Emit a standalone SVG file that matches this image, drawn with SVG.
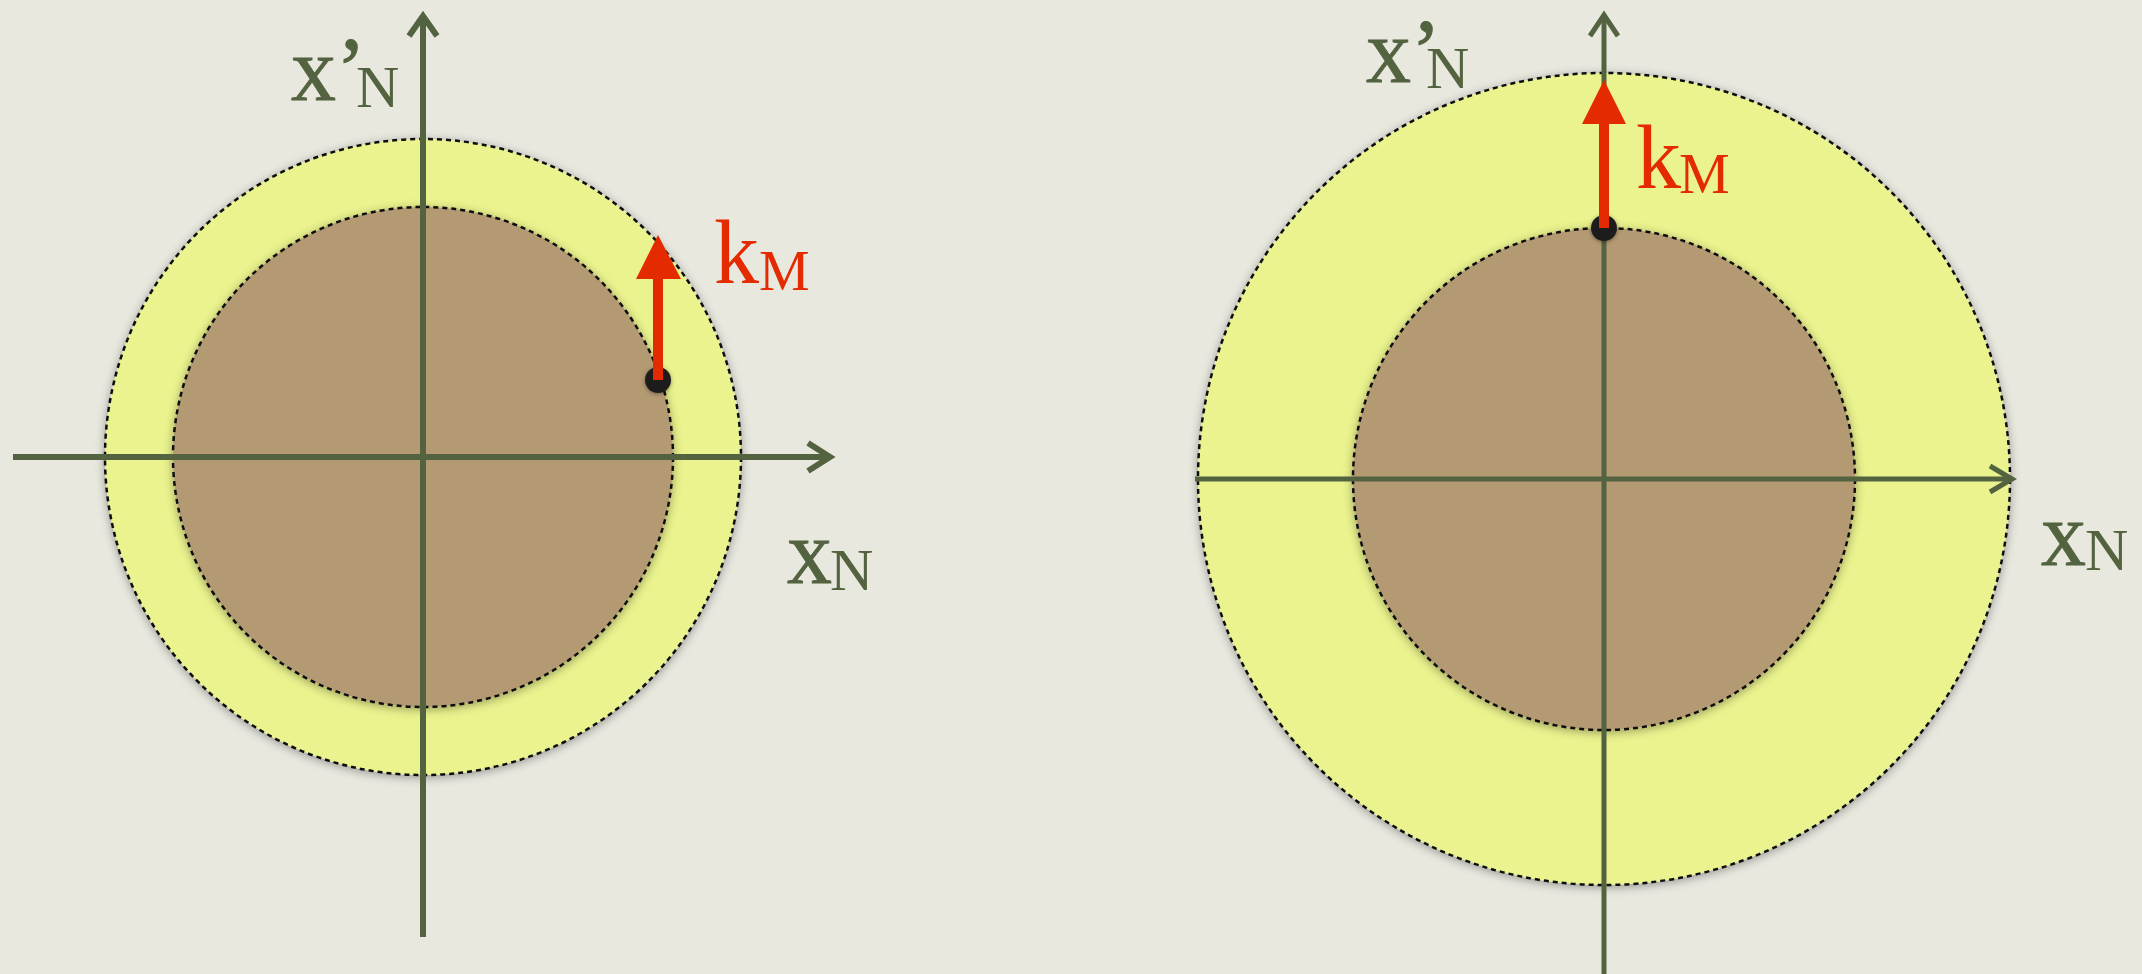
<svg xmlns="http://www.w3.org/2000/svg" width="2142" height="974" viewBox="0 0 2142 974">
<defs>
<filter id="sh" x="-20%" y="-20%" width="140%" height="140%">
<feDropShadow dx="0" dy="2" stdDeviation="5" flood-color="#000" flood-opacity="0.35"/>
</filter>
<filter id="dsh" x="-50%" y="-50%" width="200%" height="200%">
<feDropShadow dx="0" dy="1" stdDeviation="2" flood-color="#000" flood-opacity="0.4"/>
</filter>
<style>
.outer{fill:#ebf38e;stroke:#111;stroke-width:2.5;stroke-dasharray:5 4;filter:url(#sh)}
.inner{fill:#b49a72;stroke:#111;stroke-width:2.5;stroke-dasharray:5 4;filter:url(#sh)}
.ax{stroke:#536340;stroke-width:6;fill:none}
.axr{stroke:#536340;stroke-width:5;fill:none}
.head{stroke:#536340;stroke-width:6;fill:none;stroke-linecap:butt;stroke-linejoin:miter}
.headr{stroke:#536340;stroke-width:5;fill:none;stroke-linejoin:miter}
.lbl{font-family:"Liberation Serif","Times New Roman",serif;fill:#536340}
.red{font-family:"Liberation Serif","Times New Roman",serif;fill:#e42a00}
.big{font-size:90px}
.bx{stroke:#536340;stroke-width:0.8}
.sub{font-size:60px}
.msub{font-size:57px}
.dot{fill:#1e1e1e;filter:url(#dsh)}
.rarrow{fill:#e42a00}
</style>
</defs>
<rect width="2142" height="974" fill="#e8e8df"/>

<g id="left-circles">
<circle class="outer" cx="423" cy="457" r="318"/>
<circle class="inner" cx="423" cy="457" r="250"/>
</g>
<g id="right-circles">
<circle class="outer" cx="1604" cy="479" r="406"/>
<circle class="inner" cx="1604" cy="479" r="251"/>
</g>

<g id="connectors">
<line class="ax" x1="423" y1="16" x2="423" y2="937"/>
<polyline class="head" points="409,36 423,16 437,36"/>
<line class="ax" x1="13" y1="457" x2="829" y2="457"/>
<polyline class="head" points="808,443 830,457 808,471"/>
<line class="axr" x1="1604" y1="15" x2="1604" y2="974"/>
<polyline class="headr" points="1590,36 1604,15 1618,36"/>
<line class="axr" x1="1195" y1="479" x2="2011" y2="479"/>
<polyline class="headr" points="1990,466 2012,479 1990,492"/>
</g>

<g id="left-vector">
<circle class="dot" cx="658" cy="380" r="13"/>
<rect class="rarrow" x="653" y="274" width="10" height="106"/>
<polygon class="rarrow" points="658,235 681,279 636,279"/>
</g>
<g id="right-vector">
<circle class="dot" cx="1604" cy="228" r="13"/>
<rect class="rarrow" x="1599" y="119" width="10" height="109"/>
<polygon class="rarrow" points="1604,80 1626,124 1582,124"/>
</g>

<g id="left-labels">
<text class="lbl" x="291" y="100"><tspan class="big bx">x’</tspan><tspan class="sub" dx="-10" dy="7">N</tspan></text>
<text class="lbl" x="787" y="583"><tspan class="big bx">x</tspan><tspan class="sub" dx="-2" dy="7">N</tspan></text>
<text class="red" x="714" y="283"><tspan class="big">k</tspan><tspan class="msub" dy="7">M</tspan></text>
</g>
<g id="right-labels">
<text class="lbl" x="1366" y="82"><tspan class="big bx">x’</tspan><tspan class="sub" dx="-15" dy="6">N</tspan></text>
<text class="lbl" x="2041" y="565"><tspan class="big bx">x</tspan><tspan class="sub" dx="-1" dy="5">N</tspan></text>
<text class="red" x="1636" y="188"><tspan class="big">k</tspan><tspan class="msub" dx="-2" dy="5">M</tspan></text>
</g>
</svg>
